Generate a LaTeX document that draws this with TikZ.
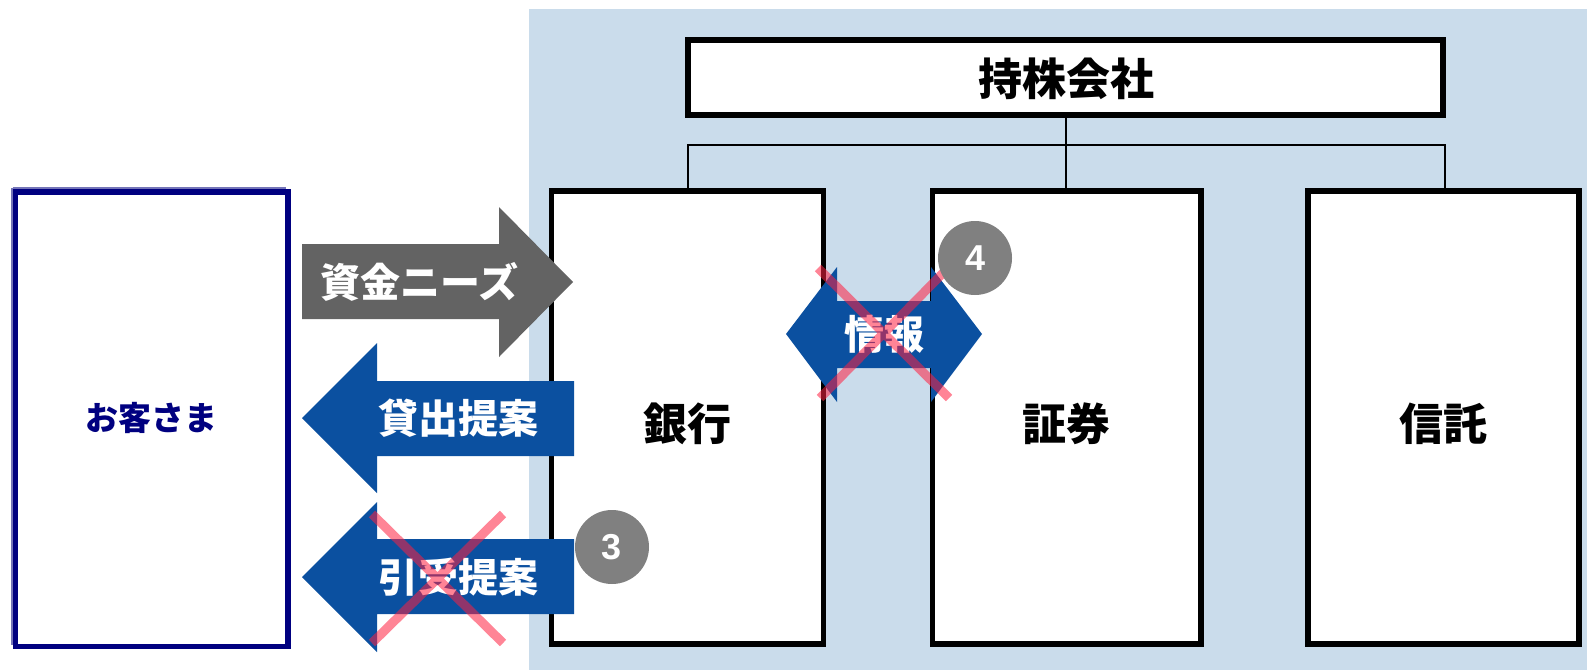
\documentclass[tikz,border=0pt]{standalone}
\usepackage{fontspec}
\setmainfont{Noto Sans CJK JP}
\newfontfamily\digitfont{Liberation Sans}
\definecolor{bgblue}{HTML}{CADCEB}
\definecolor{arrblue}{HTML}{0B50A0}
\definecolor{arrgray}{HTML}{636363}
\definecolor{circgray}{HTML}{808080}
\definecolor{navy}{HTML}{000080}
\definecolor{navylight}{HTML}{7474B8}
\definecolor{xred}{HTML}{FF2040}
\tikzset{
  orgbox/.style={draw=black, fill=white, line width=5.5pt},
  tree/.style={draw=black, line width=1.3pt},
  boxtext/.style={font=\bfseries\fontsize{44}{48}\selectfont, inner sep=0pt},
  arrtext/.style={font=\bfseries\fontsize{40}{44}\selectfont, text=white, inner sep=0pt},
  crossline/.style={draw=xred, line width=9pt, opacity=0.55},
  numcirc/.style={circle, fill=circgray, minimum size=74pt, inner sep=0pt, text=white, font=\digitfont\bfseries\fontsize{36}{40}\selectfont},
}
\begin{document}
\begin{tikzpicture}[x=1pt,y=-1pt]
\useasboundingbox (0,0) rectangle (1587,670);
% background
\fill[bgblue] (529,9) rectangle (1587,670);
% holding company
\draw[orgbox] (688,40) rectangle (1443,115);
\node[boxtext] (hold) at (1066,79) {持株会社};
\coordinate (hb) at (1066,118);
% tree
\coordinate (t1) at (688,145);
\coordinate (t2) at (1066,145);
\coordinate (t3) at (1445,145);
\draw[tree] (hb) -- (t2);
\draw[tree] (688,189) -- (t1) -- (t3) -- (1445,189);
\draw[tree] (t2) -- (1066,189);
% companies
\draw[orgbox] (551.5,191) rectangle (823.5,644);
\draw[orgbox] (932.5,191) rectangle (1201,644);
\draw[orgbox] (1308,191) rectangle (1579,644);
\node[boxtext] (bank) at (687.5,424) {銀行};
\node[boxtext] (sec) at (1066,424) {証券};
\node[boxtext] (trust) at (1443.5,424) {信託};
% customer
\draw[navylight, line width=3pt] (12.5,188) -- (12.5,645) (12.5,188) -- (286,188);
\draw[navy, fill=white, line width=5.5pt] (15.5,192) rectangle (288,646.5);
\node[font=\bfseries\fontsize{33}{36}\selectfont, text=navy, inner sep=0pt] (cust) at (151,418) {お客さま};
% arrows
\fill[arrgray] (302,244) -- (499,244) -- (499,207) -- (573,282) -- (499,357) -- (499,319) -- (302,319) -- cycle;
\node[arrtext] (needs) at (419,282) {資金ニーズ};
\fill[arrblue] (302,418) -- (377,343) -- (377,381) -- (574,381) -- (574,456) -- (377,456) -- (377,493) -- cycle;
\node[arrtext] (loan) at (458,418) {貸出提案};
\fill[arrblue] (302,577) -- (377,502) -- (377,539) -- (574,539) -- (574,614) -- (377,614) -- (377,652) -- cycle;
\node[arrtext] (under) at (458,577) {引受提案};
\fill[arrblue] (786,334) -- (837,267) -- (837,301) -- (931,301) -- (931,267) -- (982,334) -- (931,402) -- (931,368) -- (837,368) -- (837,402) -- cycle;
\node[arrtext] (info) at (884,334) {情報};
% crosses
\draw[crossline] (372,514) -- (503,643) (503,514) -- (372,643);
\draw[crossline] (818,268) -- (949,398) (946,270) -- (820,398);
% numbers
\node[numcirc] (n3) at (612,547) {3};
\node[numcirc] (n4) at (975,258) {4};
\end{tikzpicture}
\end{document}
